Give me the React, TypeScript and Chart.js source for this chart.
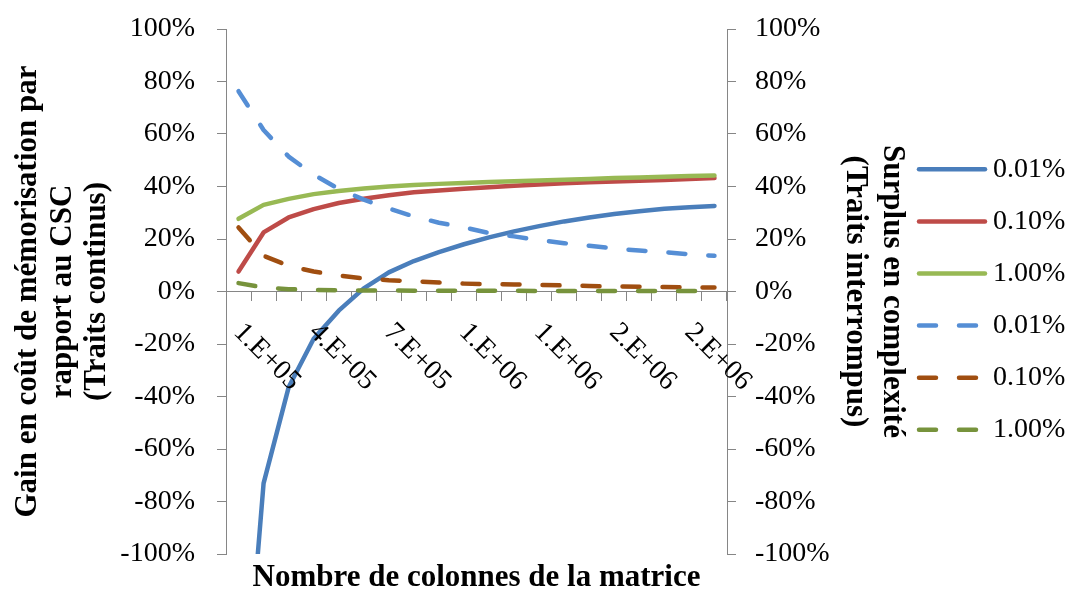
import React, { useEffect, useRef } from "react";
import { Chart, registerables } from "chart.js";

Chart.register(...registerables);

// Number of matrix columns (categories)
const columns = [
  100000, 200000, 300000, 400000, 500000, 600000, 700000, 800000, 900000, 1000000,
  1100000, 1200000, 1300000, 1400000, 1500000, 1600000, 1700000, 1800000, 1900000, 2000000,
];
// Tick labels shown on the x axis (Excel "0.E+00" format, every 3rd category)
const xTickLabels = [
  "1.E+05", "", "", "4.E+05", "", "", "7.E+05", "", "", "1.E+06",
  "", "", "1.E+06", "", "", "2.E+06", "", "", "2.E+06", "",
];

const seriesNames = ["0.01%", "0.10%", "1.00%", "0.01%", "0.10%", "1.00%"];

// Gain in storage cost vs CSC (%), solid lines, left axis
const gain001 = [-190, -73.1, -36.5, -18, -7.3, 1.2, 7.3, 11.6, 15.0, 18.0, 20.6, 22.9, 24.9, 26.7, 28.2, 29.5, 30.6, 31.5, 32.1, 32.6];
const gain010 = [7.6, 22.5, 28.2, 31.4, 33.7, 35.3, 36.7, 37.8, 38.5, 39.1, 39.7, 40.3, 40.8, 41.2, 41.6, 41.9, 42.2, 42.5, 42.9, 43.2];
const gain100 = [27.7, 33.0, 35.3, 37.1, 38.3, 39.2, 40.0, 40.6, 41.0, 41.3, 41.7, 42.0, 42.3, 42.6, 42.9, 43.2, 43.4, 43.7, 44.0, 44.2];

// Complexity surplus (%), dashed lines, right axis
const surplus001 = [76.3, 61.5, 51.4, 44.5, 39.1, 35.0, 31.6, 28.6, 26.2, 24.4, 22.3, 21.0, 19.6, 18.4, 17.4, 16.4, 15.6, 15.0, 14.2, 13.6];
const surplus010 = [24.4, 13.6, 9.8, 7.6, 6.1, 5.0, 4.3, 3.9, 3.4, 3.0, 2.8, 2.7, 2.5, 2.3, 2.1, 1.9, 1.8, 1.7, 1.6, 1.5];
const surplus100 = [3.2, 1.5, 0.9, 0.6, 0.5, 0.4, 0.4, 0.3, 0.3, 0.3, 0.3, 0.3, 0.2, 0.2, 0.2, 0.2, 0.2, 0.2, 0.2, 0.2];

const xTitle = "Nombre de colonnes de la matrice";
const leftTitle = ["Gain en coût de mémorisation par", "rapport au CSC", "(Traits continus)"];
const rightTitle = ["Surplus en complexité", "(Traits interrompus)"];

const FONT = '"Liberation Serif", "Times New Roman", serif';
const AXIS_COLOR = "#868686";
const DASH = [17, 23];

const overlayPlugin = {
  id: "overlay",
  afterDraw(chart: any) {
    const ctx = chart.ctx as CanvasRenderingContext2D;
    const xs = chart.scales.x;
    const ys = chart.scales.y;
    const area = chart.chartArea;
    const axisY = ys.getPixelForValue(0);
    ctx.save();
    ctx.fillStyle = "#000";

    // rotated x tick labels (+45deg)
    ctx.font = `28px ${FONT}`;
    ctx.textAlign = "left";
    ctx.textBaseline = "alphabetic";
    xTickLabels.forEach((lab, i) => {
      if (!lab) return;
      const px = xs.getPixelForValue(i);
      ctx.save();
      ctx.translate(px - 5.8, axisY + 41.7);
      ctx.rotate(Math.PI / 4);
      ctx.fillText(lab, 0, 0);
      ctx.restore();
    });

    // titles
    ctx.font = `bold 31px ${FONT}`;
    ctx.textAlign = "center";
    ctx.fillText(xTitle, (area.left + area.right) / 2, 586);

    const cy = (area.top + area.bottom) / 2;
    const leftBase = [36, 71, 105];
    leftTitle.forEach((t, i) => {
      ctx.save();
      ctx.translate(leftBase[i], cy);
      ctx.rotate(-Math.PI / 2);
      ctx.fillText(t, 0, 0);
      ctx.restore();
    });
    const rightBase = [884, 847];
    rightTitle.forEach((t, i) => {
      ctx.save();
      ctx.translate(rightBase[i], cy);
      ctx.rotate(Math.PI / 2);
      ctx.fillText(t, 0, 0);
      ctx.restore();
    });

    // legend
    ctx.font = `28px ${FONT}`;
    ctx.textAlign = "left";
    ctx.textBaseline = "middle";
    chart.data.datasets.forEach((ds: any, k: number) => {
      const yy = 169.3 + 52.1 * k;
      ctx.save();
      ctx.strokeStyle = ds.borderColor;
      ctx.lineWidth = ds.borderWidth;
      ctx.lineCap = "round";
      ctx.setLineDash(ds.borderDash || []);
      ctx.beginPath();
      ctx.moveTo(919, yy);
      ctx.lineTo(985, yy);
      ctx.stroke();
      ctx.restore();
      ctx.fillText(seriesNames[k], 993, yy);
    });
    ctx.restore();
  },
};

function makeDataset(label: string, data: number[], color: string, axis: string, dashed: boolean, order: number) {
  return {
    label,
    data,
    yAxisID: axis,
    borderColor: color,
    backgroundColor: color,
    borderWidth: 4.5,
    borderDash: dashed ? DASH : [],
    borderCapStyle: "round" as const,
    borderJoinStyle: "round" as const,
    pointRadius: 0,
    pointHoverRadius: 0,
    tension: 0,
    fill: false,
    order,
  };
}

export default function App() {
  const ref = useRef<HTMLCanvasElement | null>(null);
  useEffect(() => {
    if (!ref.current) return;
    Chart.defaults.font.family = FONT;
    const chart = new Chart(ref.current, {
      type: "line",
      data: {
        labels: columns.map((c) => String(c)),
        datasets: [
          makeDataset(seriesNames[0], gain001, "#4A7EBB", "y", false, 6),
          makeDataset(seriesNames[1], gain010, "#BE4B48", "y", false, 5),
          makeDataset(seriesNames[2], gain100, "#98B954", "y", false, 4),
          makeDataset(seriesNames[3], surplus001, "#558ED5", "y1", true, 3),
          makeDataset(seriesNames[4], surplus010, "#A04E10", "y1", true, 2),
          makeDataset(seriesNames[5], surplus100, "#77933C", "y1", true, 1),
        ],
      },
      options: {
        animation: false,
        responsive: false,
        events: [],
        layout: { padding: { top: 29, bottom: 36, left: 0, right: 0 } },
        plugins: { legend: { display: false }, tooltip: { enabled: false }, title: { display: false } },
        scales: {
          x: {
            type: "category",
            offset: true,
            position: { y: 0 } as any,
            afterFit: (s: any) => { s.height = 0; s.paddingLeft = 0; s.paddingRight = 0; s.paddingTop = 0; s.paddingBottom = 0; },
            grid: { offset: true, drawOnChartArea: false, drawTicks: true, tickLength: 9, color: AXIS_COLOR, lineWidth: 1 },
            border: { display: true, color: AXIS_COLOR, width: 1 },
            ticks: { display: false, autoSkip: false },
          },
          y: {
            position: "left",
            min: -100,
            max: 100,
            afterFit: (s: any) => { s.width = 226; s.paddingTop = 0; s.paddingBottom = 0; },
            grid: { drawOnChartArea: false, drawTicks: true, tickLength: 9, color: AXIS_COLOR },
            border: { display: true, color: AXIS_COLOR, width: 1 },
            ticks: { stepSize: 20, padding: 22, color: "#000", font: { size: 28, family: FONT }, callback: (v: any) => `${v}%` },
          },
          y1: {
            position: "right",
            min: -100,
            max: 100,
            afterFit: (s: any) => { s.width = 343; s.paddingTop = 0; s.paddingBottom = 0; },
            grid: { drawOnChartArea: false, drawTicks: true, tickLength: 9, color: AXIS_COLOR },
            border: { display: true, color: AXIS_COLOR, width: 1 },
            ticks: { stepSize: 20, padding: 19, color: "#000", font: { size: 28, family: FONT }, callback: (v: any) => `${v}%` },
          },
        },
      },
      plugins: [overlayPlugin],
    });
    return () => chart.destroy();
  }, []);
  return (
    <div style={{ position: "absolute", left: 0, top: 0, width: 1070, height: 590, background: "#fff" }}>
      <canvas ref={ref} width={1070} height={590} style={{ display: "block" }} />
    </div>
  );
}
